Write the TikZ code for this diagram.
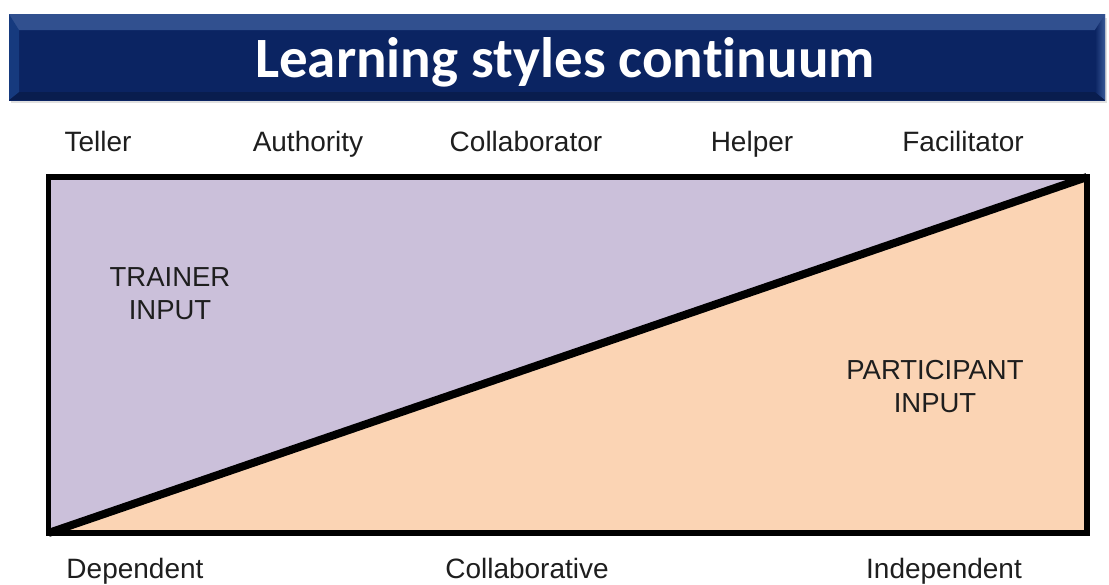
\documentclass[tikz,border=0pt]{standalone}
\usepackage{fontspec}
\setmainfont{Liberation Sans}
\newfontfamily\titlefont[Ligatures=NoCommon]{Carlito}
\definecolor{navy}{HTML}{0B2462}
\definecolor{navylight}{HTML}{4A6DAD}
\definecolor{navymid}{HTML}{163A7E}
\definecolor{trainer}{HTML}{CBC0DA}
\definecolor{partic}{HTML}{FBD4B4}
\definecolor{labeltext}{HTML}{1E1E1E}
\tikzset{
  toplabel/.style={font=\fontsize{28}{33}\selectfont, text=labeltext, anchor=base, inner sep=0pt},
  arealabel/.style={font=\fontsize{27.5}{33}\selectfont, text=labeltext, align=center, anchor=base, inner sep=0pt},
  frame/.style={line width=5.5pt, line join=miter},
  divider/.style={line width=8pt, line cap=butt},
}
\begin{document}
\begin{tikzpicture}[x=1pt,y=-1pt]
\useasboundingbox (0,0) rectangle (1109,584);
% banner shadow
\fill[black!12] (11,18) rectangle (1107,103);
% banner
\shade[top color=navylight, bottom color=navy, middle color=navymid] (9,14) rectangle (1105,100);
\fill[navy] (9,30) rectangle (1105,92);
\fill[navy!80!black] (9,92) rectangle (1105,100);
\fill[navylight!60!navy] (9,14) -- (1105,14) -- (1095,30) -- (19,30) -- cycle;
\fill[navymid] (9,14) -- (19,30) -- (19,92) -- (9,100) -- cycle;
\shade[left color=navy, right color=navylight!70!navy] (1095,30) -- (1105,14) -- (1105,100) -- (1095,92) -- cycle;
\node[font=\titlefont\bfseries\fontsize{57}{60}\selectfont, text=white, anchor=base, inner sep=0pt] (title) at (565,77) {Learning styles continuum};
% areas
\coordinate (tl) at (48.5,177);
\coordinate (tr) at (1087,177);
\coordinate (br) at (1087,533);
\coordinate (bl) at (48.5,533);
\fill[trainer] (bl) -- (tl) -- (tr) -- cycle;
\fill[partic] (bl) -- (tr) -- (br) -- cycle;
\draw[divider] (bl) -- (tr);
\draw[frame] (tl) rectangle (br);
% top labels
\node[toplabel] (teller) at (98,151) {Teller};
\node[toplabel] (authority) at (308,151) {Authority};
\node[toplabel] (collaborator) at (526,151) {Collaborator};
\node[toplabel] (helper) at (752,151) {Helper};
\node[toplabel] (facilitator) at (963,151) {Facilitator};
% bottom labels
\node[toplabel] (dependent) at (135,578) {Dependent};
\node[toplabel] (collaborative) at (527,578) {Collaborative};
\node[toplabel] (independent) at (944,578) {Independent};
% area labels
\node[arealabel] (trainerin) at (170,319) {TRAINER\\INPUT};
\node[arealabel] (particin) at (935,412) {PARTICIPANT\\INPUT};
\end{tikzpicture}
\end{document}
